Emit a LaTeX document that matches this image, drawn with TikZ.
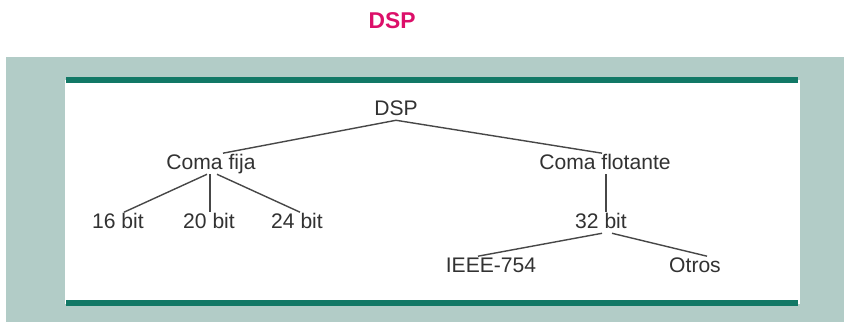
\documentclass[tikz,border=0pt]{standalone}
\usepackage{fontspec}
\setmainfont{Liberation Sans}
\usetikzlibrary{calc,positioning}
\definecolor{paneback}{RGB}{178,204,199}
\definecolor{panebar}{RGB}{18,120,102}
\definecolor{titlered}{RGB}{220,15,105}
\definecolor{treeink}{RGB}{50,50,50}

\begin{document}
\begin{tikzpicture}[x=0.02cm,y=-0.02cm,
    leaf/.style={font=\fontsize{12}{14}\selectfont, text=treeink, inner sep=0pt, outer sep=1pt, text height=8pt, text depth=2pt, anchor=base},
    branch/.style={draw=treeink!90, line width=0.8pt}]
    \useasboundingbox (0,0) rectangle (844,322);
    % panel
    \fill[paneback] (6,57) rectangle (844,322);
    \fill[white] (65,80) rectangle (800,304);
    \draw[panebar, line width=3.2pt] (66,80) -- (798,80);
    \draw[panebar, line width=3.2pt] (66,303) -- (798,303);
    
    \node[font=\bfseries\fontsize{13}{15}\selectfont, text=titlered] (title) at (392,21) {DSP};
    
    \foreach \n/\x/\y/\t in
    {dsp/396/115/DSP,
        fija/211/169/Coma fija,
        flot/605/169/Coma flotante,
        b16/118/228/16 bit,
        b20/209/228/20 bit,
        b24/297/228/24 bit,
        b32/601/228/32 bit,
        ieee/491/272/IEEE-754,
        otros/695/272/Otros
    }
    {
        \node[leaf] (\n) at (\x,\y) {\t};
    };
    
    \draw[branch] (dsp.south) -- ($(fija.north)+(12,0)$);
    \draw[branch] (dsp.south) -- ($(flot.north)+(-3,0)$);
    \draw[branch] ($(fija.south)+(-4,0)$) -- ($(b16.north)+(6,0)$);
    \draw[branch] ($(fija.south)+(-1,0)$) -- ($(b20.north)+(1,0)$);
    \draw[branch] ($(fija.south)+(6,0)$) -- ($(b24.north)+(3,0)$);
    \draw[branch] ($(flot.south)+(1,0)$) -- ($(b32.north)+(5,0)$);
    \draw[branch] ($(b32.south)+(1,0)$) -- ($(ieee.north)+(-13,0)$);
    \draw[branch] ($(b32.south)+(11,0)$) -- ($(otros.north)+(12,0)$);
\end{tikzpicture}
\end{document}
